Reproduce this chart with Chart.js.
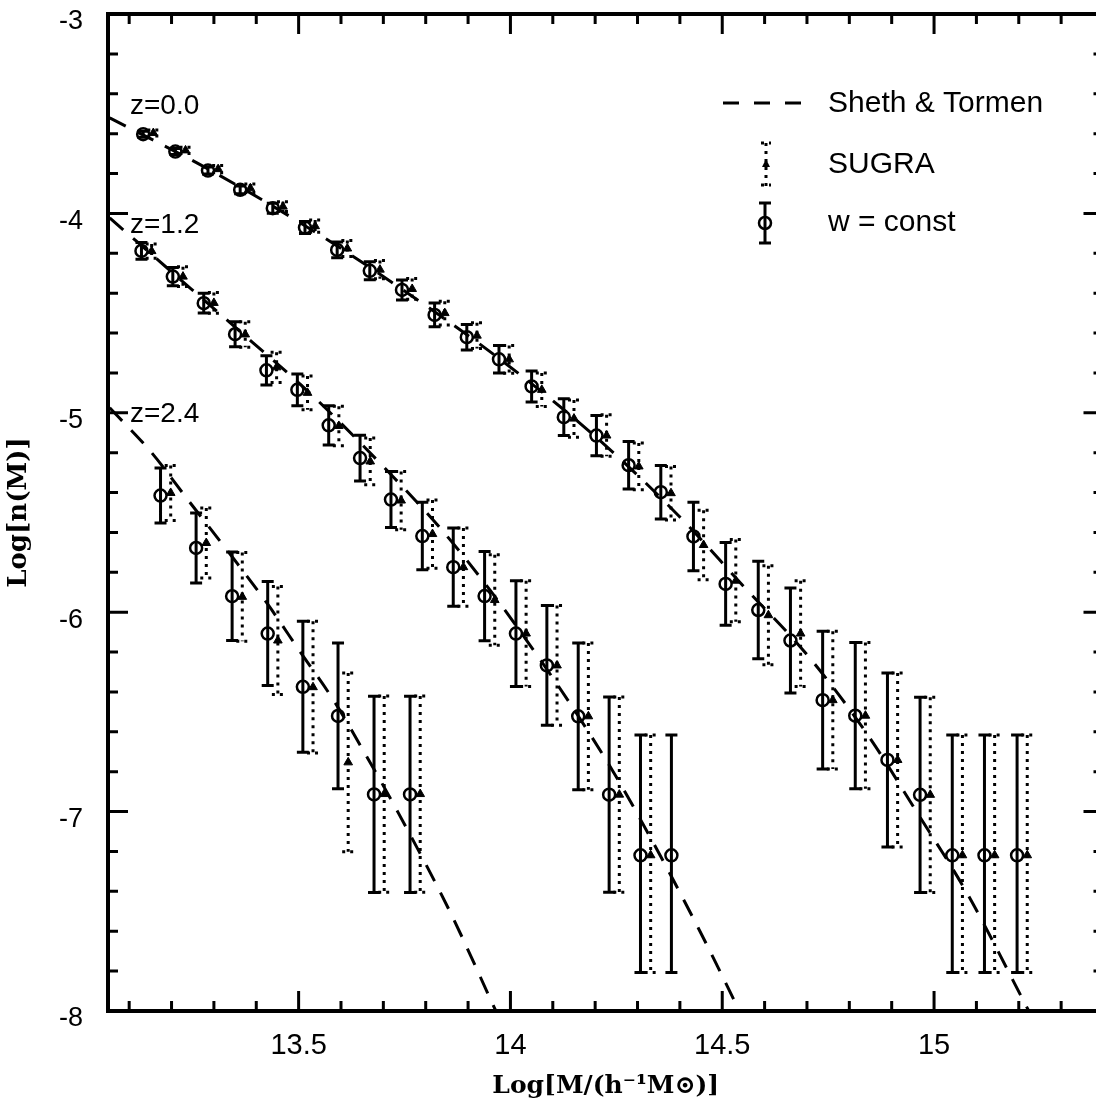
<!DOCTYPE html>
<html>
<head>
<meta charset="utf-8">
<script src="https://cdn.jsdelivr.net/npm/chart.js@4.4.1/dist/chart.umd.min.js"></script>
<style>
  html, body { margin: 0; padding: 0; background: #fff; overflow: hidden; }
  #wrap { width: 1112px; height: 1106px; }
</style>
</head>
<body>
<div id="wrap"><canvas id="massFn"></canvas></div>
<script>
// ---- values ----
const xTicks = [13.5, 14, 14.5, 15];
const yTicks = [-8, -7, -6, -5, -4, -3];

// z = 0.0
const mass0 = [13.133, 13.209, 13.286, 13.362, 13.439, 13.515, 13.591, 13.668, 13.744, 13.821, 13.897, 13.973, 14.050, 14.126, 14.203, 14.279, 14.355, 14.432, 14.508, 14.585, 14.661, 14.737, 14.814, 14.890, 14.967, 15.043, 15.119, 15.196];
const wconst0 = [-3.603, -3.690, -3.785, -3.882, -3.974, -4.071, -4.183, -4.288, -4.384, -4.509, -4.621, -4.732, -4.868, -5.022, -5.114, -5.263, -5.398, -5.620, -5.858, -5.989, -6.142, -6.441, -6.519, -6.741, -6.916, -7.219, -7.219, -7.219];
const wconst0Up = [0.015, 0.015, 0.018, 0.02, 0.025, 0.03, 0.04, 0.045, 0.05, 0.06, 0.064, 0.069, 0.078, 0.092, 0.101, 0.119, 0.134, 0.172, 0.208, 0.244, 0.263, 0.345, 0.367, 0.436, 0.49, 0.603, 0.603, 0.603];
const wconst0Dn = [0.015, 0.015, 0.018, 0.02, 0.025, 0.03, 0.04, 0.045, 0.05, 0.06, 0.064, 0.069, 0.078, 0.092, 0.101, 0.119, 0.134, 0.172, 0.208, 0.244, 0.263, 0.345, 0.367, 0.436, 0.49, 0.588, 0.588, 0.588];
const massSugra0 = [13.157, 13.233, 13.310, 13.386, 13.463, 13.539, 13.615, 13.692, 13.768, 13.845, 13.921, 13.997, 14.074, 14.150, 14.227, 14.303, 14.379, 14.456, 14.532, 14.609, 14.685, 14.761, 14.838, 14.914, 14.991, 15.067, 15.143, 15.220];
const sugra0 = [-3.597, -3.684, -3.778, -3.874, -3.966, -4.064, -4.176, -4.282, -4.379, -4.500, -4.613, -4.732, -4.885, -5.029, -5.114, -5.269, -5.403, -5.663, -5.842, -6.015, -6.107, -6.441, -6.519, -6.741, -6.916, -7.219, -7.219, -7.219];
const sugra0Up = [0.015, 0.016, 0.018, 0.021, 0.025, 0.031, 0.04, 0.046, 0.052, 0.06, 0.065, 0.07, 0.084, 0.093, 0.104, 0.117, 0.134, 0.174, 0.206, 0.248, 0.265, 0.345, 0.367, 0.436, 0.49, 0.603, 0.603, 0.603];
const sugra0Dn = [0.015, 0.016, 0.018, 0.021, 0.025, 0.031, 0.04, 0.046, 0.052, 0.06, 0.065, 0.07, 0.084, 0.093, 0.104, 0.117, 0.134, 0.174, 0.206, 0.248, 0.265, 0.345, 0.367, 0.436, 0.49, 0.588, 0.588, 0.588];

// z = 1.2
const mass1 = [13.129, 13.203, 13.276, 13.350, 13.424, 13.497, 13.571, 13.645, 13.718, 13.792, 13.865, 13.939, 14.013, 14.086, 14.160, 14.233, 14.307, 14.380];
const wconst1 = [-4.188, -4.317, -4.450, -4.606, -4.787, -4.885, -5.063, -5.227, -5.435, -5.618, -5.774, -5.919, -6.107, -6.267, -6.522, -6.915, -7.219, -7.219];
const wconst1Up = [0.042, 0.046, 0.05, 0.063, 0.073, 0.08, 0.098, 0.115, 0.14, 0.169, 0.196, 0.224, 0.265, 0.3, 0.368, 0.49, 0.603, 0.603];
const wconst1Dn = [0.042, 0.046, 0.05, 0.063, 0.073, 0.08, 0.098, 0.115, 0.14, 0.169, 0.196, 0.224, 0.265, 0.3, 0.368, 0.49, 0.588, 0.588];
const massSugra1 = [13.153, 13.227, 13.300, 13.374, 13.448, 13.521, 13.595, 13.669, 13.742, 13.816, 13.889, 13.963, 14.037, 14.110, 14.184, 14.257, 14.331];
const sugra1 = [-4.189, -4.317, -4.449, -4.607, -4.772, -4.900, -5.066, -5.244, -5.440, -5.608, -5.774, -5.939, -6.107, -6.267, -6.522, -6.915, -7.219];
const sugra1Up = [0.036, 0.05, 0.052, 0.064, 0.076, 0.085, 0.099, 0.117, 0.146, 0.171, 0.196, 0.227, 0.265, 0.3, 0.368, 0.49, 0.603];
const sugra1Dn = [0.036, 0.05, 0.052, 0.064, 0.076, 0.085, 0.099, 0.117, 0.146, 0.171, 0.196, 0.227, 0.265, 0.3, 0.368, 0.49, 0.588];

// z = 2.4
const mass2 = [13.174, 13.258, 13.343, 13.427, 13.510, 13.593, 13.678, 13.763];
const wconst2 = [-5.415, -5.678, -5.920, -6.107, -6.374, -6.520, -6.914, -6.914];
const wconst2Err = [0.138, 0.175, 0.222, 0.261, 0.328, 0.366, 0.492, 0.492];
const massSugra2 = [13.198, 13.282, 13.367, 13.451, 13.534, 13.617, 13.702, 13.787];
const sugra2 = [-5.402, -5.653, -5.923, -6.142, -6.376, -6.753, -6.912, -6.912];
const sugra2Err = [0.138, 0.175, 0.223, 0.271, 0.33, 0.448, 0.492, 0.492];

// Sheth & Tormen curves
const stMass0 = [13.054, 13.286, 13.516, 13.739, 13.974, 14.209, 14.397, 14.549, 14.702, 14.843, 14.960, 15.077, 15.223];
const st0 = [-3.521, -3.777, -4.063, -4.373, -4.729, -5.135, -5.516, -5.867, -6.218, -6.614, -7.005, -7.406, -7.997];
const stMass1 = [13.054, 13.246, 13.387, 13.531, 13.723, 13.833, 13.951, 14.061, 14.155, 14.244, 14.333, 14.444, 14.540];
const st1 = [-4.023, -4.378, -4.639, -4.910, -5.321, -5.575, -5.887, -6.210, -6.504, -6.805, -7.140, -7.586, -7.997];
const stMass2 = [13.054, 13.153, 13.242, 13.343, 13.427, 13.505, 13.582, 13.657, 13.735, 13.857, 13.965];
const st2 = [-4.975, -5.200, -5.446, -5.722, -5.960, -6.203, -6.440, -6.710, -7.005, -7.501, -7.997];

const zLabels = ['z=0.0', 'z=1.2', 'z=2.4'];
const legendLabels = ['Sheth & Tormen', 'SUGRA', 'w = const'];

const pts = (xs, ys) => xs.map((v, i) => ({ x: v, y: ys[i] }));

function curve(xs, ys) {
  return {
    type: 'line', data: pts(xs, ys),
    borderColor: '#000', borderWidth: 3, borderDash: [18, 13],
    pointRadius: 0, cubicInterpolationMode: 'monotone', fill: false
  };
}

function wconst(xs, ys, up, dn) {
  return {
    type: 'scatter', data: pts(xs, ys), errUp: up, errDn: dn, dotted: false,
    pointStyle: 'circle', pointRadius: 6, borderWidth: 2.5,
    borderColor: '#000', backgroundColor: 'rgba(0,0,0,0)'
  };
}

function sugra(xs, ys, up, dn) {
  return {
    type: 'scatter', data: pts(xs, ys), errUp: up, errDn: dn, dotted: true,
    pointStyle: 'triangle', pointRadius: 5, borderWidth: 1,
    borderColor: '#000', backgroundColor: '#000'
  };
}

// vertical error bars with caps, solid or dotted
const errorBars = {
  id: 'errorBars',
  beforeDatasetsDraw(chart) {
    const { ctx, scales: { x, y } } = chart;
    chart.data.datasets.forEach(ds => {
      if (!ds.errUp) return;
      ctx.save();
      ctx.strokeStyle = '#000';
      ctx.lineWidth = 3;
      ctx.setLineDash(ds.dotted ? [3, 5] : []);
      ctx.beginPath();
      ds.data.forEach((p, j) => {
        const px = x.getPixelForValue(p.x);
        const top = y.getPixelForValue(p.y + ds.errUp[j]);
        const bot = y.getPixelForValue(p.y - ds.errDn[j]);
        ctx.moveTo(px, top); ctx.lineTo(px, bot);
        ctx.moveTo(px - 6, top); ctx.lineTo(px + 6, top);
        ctx.moveTo(px - 6, bot); ctx.lineTo(px + 6, bot);
      });
      ctx.stroke();
      ctx.restore();
    });
  }
};

// closed frame with inward ticks on all four sides, plus labels and legend
const frame = {
  id: 'frame',
  afterDraw(chart) {
    const { ctx, chartArea: a, scales: { x, y } } = chart;
    ctx.save();
    ctx.strokeStyle = '#000';
    ctx.lineWidth = 3;
    ctx.beginPath();
    for (let k = 131; k <= 153; k++) {
      const px = x.getPixelForValue(k / 10);
      const len = k % 5 === 0 ? 20 : 10;
      ctx.moveTo(px, a.bottom); ctx.lineTo(px, a.bottom - len);
      ctx.moveTo(px, a.top); ctx.lineTo(px, a.top + len);
    }
    for (let k = -39; k <= -16; k++) {
      const py = y.getPixelForValue(k / 5);
      const len = k % 5 === 0 ? 20 : 10;
      ctx.moveTo(a.left, py); ctx.lineTo(a.left + len, py);
      ctx.moveTo(a.right, py); ctx.lineTo(a.right - len, py);
    }
    ctx.stroke();
    ctx.lineWidth = 4;
    ctx.strokeRect(a.left, a.top, a.right - a.left, a.bottom - a.top);

    // redshift labels
    ctx.fillStyle = '#000';
    ctx.font = '28px "Liberation Sans", Arial, sans-serif';
    ctx.textBaseline = 'middle';
    ctx.fillText(zLabels[0], a.left + 22, a.top + 92);
    ctx.fillText(zLabels[1], a.left + 22, a.top + 211);
    ctx.fillText(zLabels[2], a.left + 22, a.top + 400);

    // legend
    ctx.font = '30px "Liberation Sans", Arial, sans-serif';
    ctx.fillText(legendLabels[0], 828, 104);
    ctx.fillText(legendLabels[1], 828, 165);
    ctx.fillText(legendLabels[2], 828, 223);

    ctx.lineWidth = 3;
    ctx.setLineDash([16, 15]);
    ctx.beginPath(); ctx.moveTo(723, 103); ctx.lineTo(805, 103); ctx.stroke();

    ctx.setLineDash([3, 5]);
    ctx.beginPath();
    ctx.moveTo(766, 143); ctx.lineTo(766, 186);
    ctx.moveTo(761, 143); ctx.lineTo(771, 143);
    ctx.moveTo(761, 185); ctx.lineTo(771, 185);
    ctx.stroke();
    ctx.setLineDash([]);
    ctx.beginPath();
    ctx.moveTo(766, 159); ctx.lineTo(770, 167); ctx.lineTo(762, 167); ctx.closePath();
    ctx.fill();

    ctx.beginPath();
    ctx.moveTo(765, 203); ctx.lineTo(765, 243);
    ctx.moveTo(759, 203); ctx.lineTo(771, 203);
    ctx.moveTo(759, 243); ctx.lineTo(771, 243);
    ctx.stroke();
    ctx.lineWidth = 2.5;
    ctx.beginPath(); ctx.arc(765, 223, 6, 0, Math.PI * 2); ctx.stroke();
    ctx.restore();
  }
};

const ctx = document.getElementById('massFn').getContext('2d');
new Chart(ctx, {
  data: {
    datasets: [
      curve(stMass0, st0), curve(stMass1, st1), curve(stMass2, st2),
      wconst(mass0, wconst0, wconst0Up, wconst0Dn),
      wconst(mass1, wconst1, wconst1Up, wconst1Dn),
      wconst(mass2, wconst2, wconst2Err, wconst2Err),
      sugra(massSugra0, sugra0, sugra0Up, sugra0Dn),
      sugra(massSugra1, sugra1, sugra1Up, sugra1Dn),
      sugra(massSugra2, sugra2, sugra2Err, sugra2Err)
    ]
  },
  options: {
    responsive: true,
    maintainAspectRatio: false,
    animation: false,
    layout: { padding: { top: 14, right: 5, left: 0, bottom: 0 } },
    plugins: { legend: { display: false }, tooltip: { enabled: false } },
    scales: {
      x: {
        type: 'linear', min: 13.05, max: 15.4,
        grid: { display: false, drawTicks: false }, border: { display: false },
        afterBuildTicks: s => { s.ticks = xTicks.map(v => ({ value: v })); },
        afterFit: s => { s.height = 95; s.paddingLeft = 0; s.paddingRight = 0; },
        ticks: {
          color: '#000', padding: 18, maxRotation: 0,
          font: { family: '"Liberation Sans", Arial, sans-serif', size: 29 },
          callback: v => String(v)
        },
        title: {
          display: true, text: 'Log[M/(h\u207B\u00B9M\u2299)]', color: '#000',
          padding: { top: 0, bottom: 5 },
          font: { family: '"DejaVu Serif", serif', size: 25, weight: 'bold' }
        }
      },
      y: {
        type: 'linear', min: -8, max: -3,
        grid: { display: false, drawTicks: false }, border: { display: false },
        afterBuildTicks: s => { s.ticks = yTicks.map(v => ({ value: v })); },
        afterFit: s => { s.width = 108; s.paddingTop = 0; s.paddingBottom = 0; },
        ticks: {
          color: '#000', padding: 25, labelOffset: 8,
          font: { family: '"Liberation Sans", Arial, sans-serif', size: 27 },
          callback: v => String(v)
        },
        title: {
          display: true, text: 'Log[n(M)]', color: '#000',
          padding: { top: 4, bottom: 0 },
          font: { family: '"DejaVu Serif", serif', size: 26, weight: 'bold' }
        }
      }
    }
  },
  plugins: [errorBars, frame]
});
</script>
</body>
</html>
